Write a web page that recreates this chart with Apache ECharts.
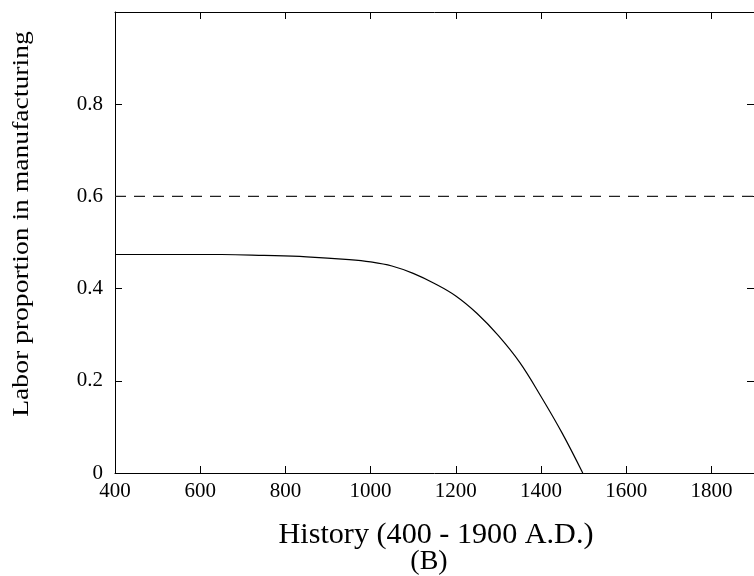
<!DOCTYPE html>
<html><head><meta charset="utf-8">
<script src="https://cdn.jsdelivr.net/npm/echarts@6/dist/echarts.min.js"></script>
<style>html,body{margin:0;padding:0;background:#fff}#c{width:754px;height:576px}</style>
</head><body><div id="c"></div>
<script>
// Data
const years = [400, 450, 550, 650, 750, 850, 950, 1000, 1050, 1100, 1150, 1200, 1250, 1300, 1350, 1400, 1450, 1498];
const laborShare = [0.474, 0.474, 0.474, 0.474, 0.472, 0.469, 0.463, 0.458, 0.449, 0.433, 0.411, 0.384, 0.346, 0.298, 0.240, 0.166, 0.086, 0.0];
const thresholdLevel = 0.6;
const xTicks = [400, 600, 800, 1000, 1200, 1400, 1600, 1800];
const yTicks = [0, 0.2, 0.4, 0.6, 0.8];
const xTitle = 'History (400 - 1900 A.D.)';
const subTitle = '(B)';
const yTitle = 'Labor proportion in manufacturing';

const FONT = 'Liberation Serif';
const chart = echarts.init(document.getElementById('c'), null, {renderer: 'canvas'});
const axisLine = {show: true, onZero: false, lineStyle: {color: '#000', width: 1}};
const tick = {show: true, inside: true, length: 7, lineStyle: {color: '#000', width: 1}};
chart.setOption({
  animation: false,
  backgroundColor: '#fff',
  grid: {left: 115, top: 12, width: 645, height: 461, containLabel: false},
  xAxis: [
    {type: 'value', position: 'bottom', min: 400, max: 1900, interval: 200,
     axisLine, axisTick: tick, splitLine: {show: false},
     axisLabel: {show: true, color: '#000', fontFamily: FONT, fontSize: 21, margin: 8, showMaxLabel: false,
       formatter: v => xTicks.includes(v) ? String(v) : ''}},
    {type: 'value', position: 'top', min: 400, max: 1900, interval: 200,
     axisLine, axisTick: tick, splitLine: {show: false}, axisLabel: {show: false}}
  ],
  yAxis: [
    {type: 'value', position: 'left', min: 0, max: 1, interval: 0.2,
     axisLine, axisTick: tick, splitLine: {show: false},
     axisLabel: {show: true, color: '#000', fontFamily: FONT, fontSize: 21, margin: 12, showMaxLabel: false,
       formatter: v => { const t = yTicks.find(x => Math.abs(x - v) < 1e-9); return t === undefined ? '' : String(t); }}},
    {type: 'value', position: 'right', min: 0, max: 1, interval: 0.2,
     axisLine, axisTick: tick, splitLine: {show: false}, axisLabel: {show: false}}
  ],
  series: [
    {type: 'line', xAxisIndex: 0, yAxisIndex: 0, data: years.map((y, i) => [y, laborShare[i]]),
     smooth: 0.4, showSymbol: false, lineStyle: {color: '#000', width: 1.2}},
    {type: 'line', xAxisIndex: 0, yAxisIndex: 0, data: [[400, thresholdLevel], [1900, thresholdLevel]],
     showSymbol: false, lineStyle: {color: '#222', width: 1.3, type: [11, 8]}}
  ],
  graphic: [
    {type: 'text', x: 436, y: 535, scaleX: 1.04, style: {text: xTitle, fontFamily: FONT, fontSize: 29, fill: '#000', align: 'center', verticalAlign: 'middle'}},
    {type: 'text', x: 429, y: 562, style: {text: subTitle, fontFamily: FONT, fontSize: 28, fill: '#000', align: 'center', verticalAlign: 'middle'}},
    {type: 'text', x: 22, y: 224, rotation: Math.PI / 2, scaleX: 1.2, style: {text: yTitle, fontFamily: FONT, fontSize: 23, fill: '#000', align: 'center', verticalAlign: 'middle'}}
  ]
});
</script></body></html>
